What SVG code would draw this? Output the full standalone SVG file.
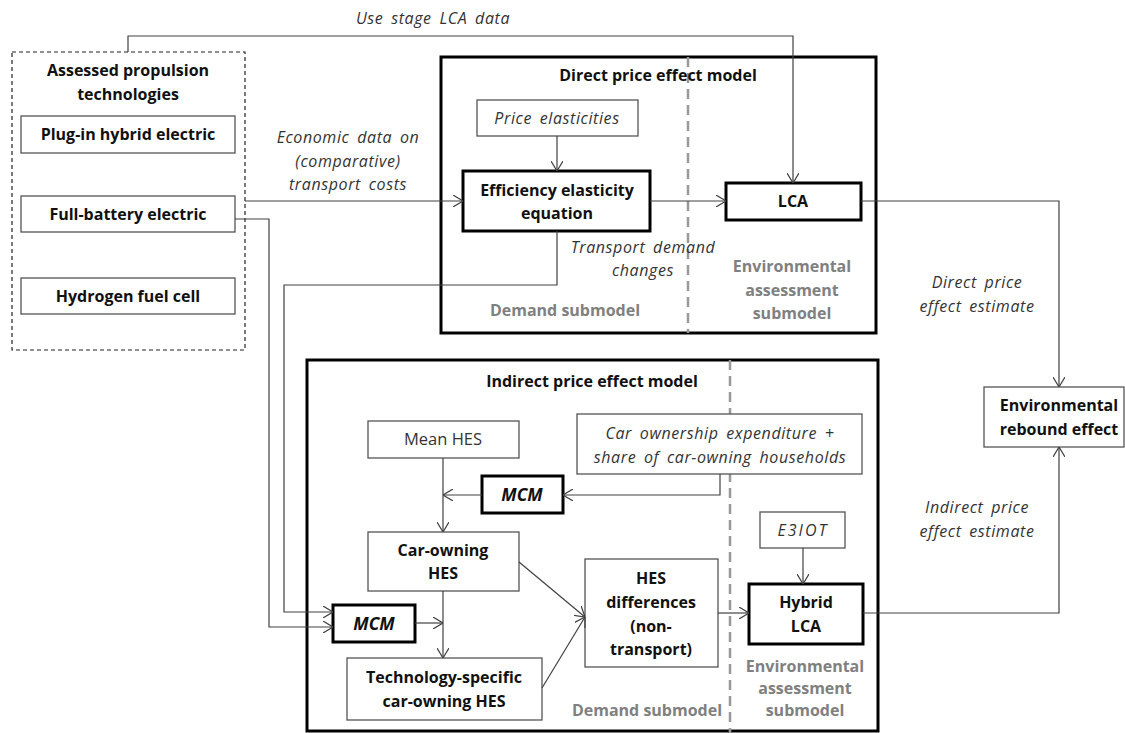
<svg xmlns="http://www.w3.org/2000/svg" width="1125" height="733" viewBox="0 0 1125 733">
<style>
.b{fill:#fff;stroke:#555;stroke-width:1.3}
.tk{fill:#fff;stroke:#000;stroke-width:3}
.fr{fill:none;stroke:#000;stroke-width:3}
.c{fill:none;stroke:#404040;stroke-width:1.2}
.dv{stroke:#999;stroke-width:2.5;stroke-dasharray:10,6}
text{font-family:"Open Sans","Liberation Sans",sans-serif;text-anchor:middle;font-size:16px}
.bd{font-weight:bold;fill:#111}
.it{font-style:italic;fill:#333;letter-spacing:0.6px;word-spacing:3px}
.g{font-weight:bold;fill:#808080}
.n{fill:#333;font-size:16.5px}
.m{font-weight:bold;font-style:italic;fill:#111;font-size:17.5px}
</style>
<defs>
<marker id="a" viewBox="0 0 10 12" markerWidth="10" markerHeight="12" refX="10" refY="6" orient="auto" markerUnits="userSpaceOnUse">
<path d="M0,0 L10,6 L0,12" fill="none" stroke="#404040" stroke-width="1.2"/>
</marker>
</defs>

<g id="direct-model">
<rect class="fr" x="441" y="57" width="435" height="276"/>
<line class="dv" x1="688" y1="57" x2="688" y2="333"/>
<text class="bd" x="658" y="81">Direct price effect model</text>
<text class="g" x="565" y="316">Demand submodel</text>
<text class="g" x="792" y="272">Environmental</text>
<text class="g" x="792" y="296">assessment</text>
<text class="g" x="792" y="319">submodel</text>
</g>

<g id="indirect-model">
<rect class="fr" x="307" y="360" width="571" height="371"/>
<line class="dv" x1="730" y1="360" x2="730" y2="733"/>
<text class="bd" x="592" y="387">Indirect price effect model</text>
<text class="g" x="647" y="716">Demand submodel</text>
<text class="g" x="805" y="672">Environmental</text>
<text class="g" x="805" y="694">assessment</text>
<text class="g" x="805" y="716">submodel</text>
</g>

<g id="technologies">
<rect x="12" y="52" width="233" height="298" fill="#fff" stroke="#222" stroke-width="1.2" stroke-dasharray="4,3"/>
<text class="bd" x="128" y="76">Assessed propulsion</text>
<text class="bd" x="128" y="100">technologies</text>
</g>
<g id="phev"><rect class="b" x="21" y="116" width="214" height="37"/><text class="bd" x="128" y="140">Plug-in hybrid electric</text></g>
<g id="bev"><rect class="b" x="21" y="196" width="214" height="36"/><text class="bd" x="128" y="220">Full-battery electric</text></g>
<g id="fcev"><rect class="b" x="21" y="278" width="214" height="36"/><text class="bd" x="128" y="302">Hydrogen fuel cell</text></g>

<g id="price-elasticities"><rect class="b" x="477" y="100" width="161" height="36"/><text class="it" x="557" y="124">Price elasticities</text></g>
<g id="efficiency"><rect class="tk" x="463" y="171" width="187" height="60"/><text class="bd" x="557" y="196">Efficiency elasticity</text><text class="bd" x="557" y="219">equation</text></g>
<g id="lca"><rect class="tk" x="726" y="183" width="135" height="37"/><text class="bd" x="793" y="207">LCA</text></g>
<g id="rebound"><rect class="b" x="984" y="387" width="140" height="60"/><text class="bd" x="1059" y="411">Environmental</text><text class="bd" x="1059" y="435">rebound effect</text></g>

<g id="mean-hes"><rect class="b" x="368" y="421" width="151" height="37"/><text class="n" x="443" y="445">Mean HES</text></g>
<g id="car-ownership"><rect class="b" x="577" y="414" width="285" height="60"/><text class="it" x="720" y="439">Car ownership expenditure +</text><text class="it" x="720" y="463">share of car-owning households</text></g>
<g id="mcm1"><rect class="tk" x="482" y="476" width="81" height="37"/><text class="m" x="522" y="501">MCM</text></g>
<g id="car-owning-hes"><rect class="b" x="368" y="532" width="151" height="59"/><text class="bd" x="443" y="556">Car-owning</text><text class="bd" x="443" y="579">HES</text></g>
<g id="mcm2"><rect class="tk" x="333" y="605" width="82" height="37"/><text class="m" x="374" y="630">MCM</text></g>
<g id="tech-hes"><rect class="b" x="347" y="658" width="195" height="62"/><text class="bd" x="444" y="683">Technology-specific</text><text class="bd" x="444" y="707">car-owning HES</text></g>
<g id="hes-diff"><rect class="b" x="585" y="559" width="133" height="108"/><text class="bd" x="651" y="584">HES</text><text class="bd" x="651" y="608">differences</text><text class="bd" x="651" y="632">(non-</text><text class="bd" x="651" y="655">transport)</text></g>
<g id="e3iot"><rect class="b" x="760" y="512" width="85" height="36"/><text class="it" x="803" y="536" style="letter-spacing:2px">E3IOT</text></g>
<g id="hybrid-lca"><rect class="tk" x="749" y="584" width="114" height="60"/><text class="bd" x="806" y="608">Hybrid</text><text class="bd" x="806" y="632">LCA</text></g>

<g id="connectors">
<polyline class="c" points="128,52 128,36 793,36 793,183" marker-end="url(#a)"/>
<line class="c" x1="245" y1="201" x2="463" y2="201" marker-end="url(#a)"/>
<line class="c" x1="557" y1="136" x2="557" y2="171" marker-end="url(#a)"/>
<line class="c" x1="650" y1="201" x2="726" y2="201" marker-end="url(#a)"/>
<polyline class="c" points="861,201 1059,201 1059,387" marker-end="url(#a)"/>
<polyline class="c" points="557,231 557,285 284,285 284,612 333,612" marker-end="url(#a)"/>
<polyline class="c" points="235,219 269,219 269,627 333,627" marker-end="url(#a)"/>
<line class="c" x1="443" y1="458" x2="443" y2="532" marker-end="url(#a)"/>
<line class="c" x1="482" y1="495" x2="443" y2="495" marker-end="url(#a)"/>
<polyline class="c" points="720,474 720,495 563,495" marker-end="url(#a)"/>
<line class="c" x1="443" y1="591" x2="443" y2="658" marker-end="url(#a)"/>
<line class="c" x1="415" y1="623" x2="443" y2="623" marker-end="url(#a)"/>
<line class="c" x1="519" y1="562" x2="585" y2="617" marker-end="url(#a)"/>
<line class="c" x1="542" y1="688" x2="585" y2="617" marker-end="url(#a)"/>
<line class="c" x1="718" y1="613" x2="749" y2="613" marker-end="url(#a)"/>
<line class="c" x1="803" y1="548" x2="803" y2="584" marker-end="url(#a)"/>
<polyline class="c" points="863,613 1059,613 1059,447" marker-end="url(#a)"/>
<text class="it" x="433" y="24">Use stage LCA data</text>
<text class="it" x="348" y="143">Economic data on</text>
<text class="it" x="348" y="167">(comparative)</text>
<text class="it" x="348" y="190">transport costs</text>
<text class="it" x="643" y="253">Transport demand</text>
<text class="it" x="643" y="276">changes</text>
<text class="it" x="977" y="288">Direct price</text>
<text class="it" x="977" y="312">effect estimate</text>
<text class="it" x="977" y="513">Indirect price</text>
<text class="it" x="977" y="537">effect estimate</text>
</g>
</svg>
